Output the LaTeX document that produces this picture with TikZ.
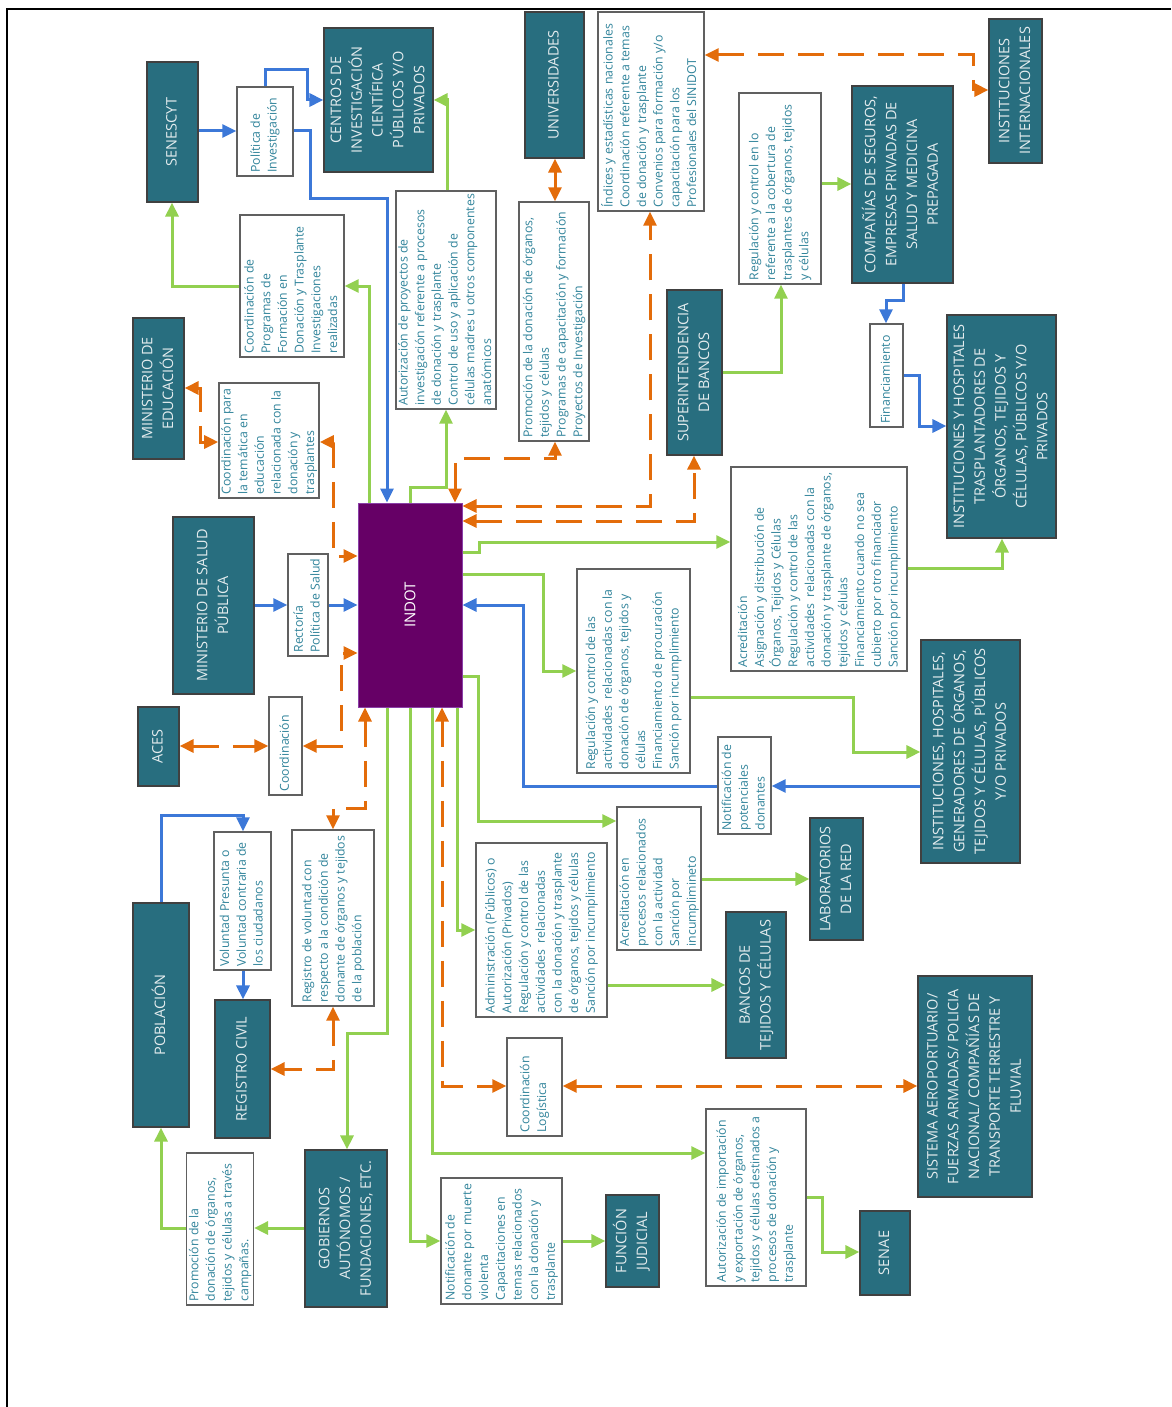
\documentclass[tikz,border=0pt]{standalone}
\usepackage{fontspec}
\setmainfont{Open Sans}
\usepackage{graphicx}
\usetikzlibrary{arrows.meta}
\definecolor{cteal}{HTML}{286E7F}
\definecolor{ctealtxt}{HTML}{E4ECEE}
\definecolor{cwtxt}{HTML}{31849B}
\definecolor{cblue}{HTML}{3C78D8}
\definecolor{cgreen}{HTML}{92D050}
\definecolor{corange}{HTML}{E36C0A}
\definecolor{cpurple}{HTML}{660066}
\definecolor{cpborder}{HTML}{8A3FA8}
\definecolor{cgrayb}{HTML}{606060}
\newcommand\bxgeom[4]{\pgfmathsetmacro\bxcx{(#1+#3)/2}\pgfmathsetmacro\bxcy{(#2+#4)/2}\pgfmathsetmacro\bxw{#3-#1}\pgfmathsetmacro\bxh{#4-#2}\pgfmathsetmacro\bxt{#4-#2-7}}
\newcommand\wb[6]{\bxgeom{#2}{#3}{#4}{#5}\node[wbox,minimum width=\bxw pt,minimum height=\bxh pt] (#1) at (\bxcx,\bxcy) {\rotatebox{90}{\makebox[\bxt pt][l]{\begin{tabular}{@{}l@{}}#6\end{tabular}}}};}
\newcommand\tb[6]{\bxgeom{#2}{#3}{#4}{#5}\node[tbox,minimum width=\bxw pt,minimum height=\bxh pt] (#1) at (\bxcx,\bxcy) {\rotatebox{90}{\begin{tabular}{@{}c@{}}#6\end{tabular}}};}
\tikzset{
  wbox/.style={draw=cgrayb, line width=1.4pt, fill=white, inner sep=0pt, text=cwtxt, font=\fontsize{12.3}{16.7}\selectfont},
  tbox/.style={draw=black!75, line width=1.2pt, fill=cteal, inner sep=0pt, text=ctealtxt, font=\fontsize{14.5}{20.8}\selectfont},
  pbox/.style={draw=cpborder, line width=1pt, fill=cpurple, inner sep=0pt, text=white, font=\fontsize{15}{20.8}\selectfont},
  >={Triangle[length=14pt,width=13pt]},
  bl/.style={draw=cblue, line width=3pt, ->},
  gr/.style={draw=cgreen, line width=3pt, ->},
  orl/.style={draw=corange, line width=3pt, dash pattern=on 26pt off 14pt, <->},
  orsolid/.style={draw=corange, line width=3pt, <->},
}
\begin{document}
\begin{tikzpicture}[x=1pt,y=-1pt]
\useasboundingbox (0,0) rectangle (1171,1407);
\draw[line width=2.2pt] (7,1407) -- (7,9) -- (1171,9);

% teal boxes
\tb{senescyt}{147}{62}{198}{202}{SENESCYT}
\tb{centros}{324}{28}{433}{172}{CENTROS DE\\INVESTIGACIÓN\\CIENTÍFICA\\PÚBLICOS Y/O\\PRIVADOS}
\tb{minedu}{133}{318}{184}{459}{MINISTERIO DE\\EDUCACIÓN}
\tb{univ}{525}{12}{584}{158}{UNIVERSIDADES}
\tb{super}{667}{290}{722}{455}{SUPERINTENDENCIA\\DE BANCOS}
\tb{comp}{852}{86}{953}{283}{COMPAÑÍAS DE SEGUROS,\\EMPRESAS PRIVADAS DE\\SALUD Y MEDICINA\\PREPAGADA}
\tb{intl}{989}{19}{1042}{163}{INSTITUCIONES\\INTERNACIONALES}
\tb{ith}{947}{315}{1056}{538}{INSTITUCIONES Y HOSPITALES\\TRASPLANTADORES DE\\ÓRGANOS, TEJIDOS Y\\CÉLULAS, PÚBLICOS Y/O\\PRIVADOS}
\tb{msp}{173}{517}{254}{694}{MINISTERIO DE SALUD\\PÚBLICA}
\tb{aces}{138}{707}{179}{786}{ACES}
\tb{pob}{133}{903}{189}{1127}{POBLACIÓN}
\tb{rc}{215}{1000}{270}{1138}{REGISTRO CIVIL}
\tb{gob}{305}{1150}{387}{1307}{GOBIERNOS\\AUTÓNOMOS /\\FUNDACIONES, ETC.}
\tb{gen}{921}{640}{1020}{863}{INSTITUCIONES, HOSPITALES,\\GENERADORES DE ÓRGANOS,\\TEJIDOS Y CÉLULAS, PÚBLICOS\\Y/O PRIVADOS}
\tb{lab}{810}{818}{863}{940}{LABORATORIOS\\DE LA RED}
\tb{bancos}{726}{912}{786}{1058}{BANCOS DE\\TEJIDOS Y CÉLULAS}
\tb{sist}{918}{976}{1032}{1197}{SISTEMA AEROPORTUARIO/\\FUERZAS ARMADAS/ POLICIA\\NACIONAL/ COMPAÑÍAS DE\\TRANSPORTE TERRESTRE Y\\FLUVIAL}
\tb{senae}{860}{1211}{910}{1295}{SENAE}
\tb{fj}{606}{1195}{659}{1287}{FUNCIÓN\\JUDICIAL}

% INDOT
\node[pbox, minimum width=104pt, minimum height=204pt] (indot) at (410,605) {\rotatebox{90}{INDOT}};

% white boxes
\wb{pol}{237}{87}{293}{176}{Política de\\Investigación}
\wb{coordprog}{240}{215}{344}{357}{Coordinación de\\Programas de\\Formación en\\Donación y Trasplante\\Investigaciones\\realizadas}
\wb{coordtem}{219}{383}{319}{498}{Coordinación para\\la temática en\\educación\\relacionada con la\\donación y\\trasplantes}
\wb{autproy}{396}{191}{496}{409}{Autorización de proyectos de\\investigación referente a procesos\\de donación y trasplante\\Control de uso y aplicación de\\células madres u otros componentes\\anatómicos}
\wb{promu}{519}{202}{589}{441}{Promoción de la donación de órganos,\\tejidos y células\\Programas de capacitación y formación\\Proyectos de Investigación}
\wb{indices}{598}{12}{704}{211}{Índices y estadísticas nacionales\\Coordinación referente a temas\\de donación y trasplante\\Convenios para formación y/o\\capacitación para los\\Profesionales del SINIDOT}
\wb{regcob}{739}{93}{821}{284}{Regulación y control en lo\\referente a la cobertura de\\trasplantes de órganos, tejidos\\y células}
\wb{fin}{870}{324}{903}{427}{Financiamiento}
\wb{rect}{288}{554}{328}{656}{Rectoría\\Política de Salud}
\wb{coordn}{269}{697}{302}{795}{Coordinación}
\wb{vol}{214}{832}{271}{970}{Voluntad Presunta o\\Voluntad contraria de\\los ciudadanos}
\wb{regvol}{292}{830}{374}{1006}{Registro de voluntad con\\respecto a la condición de\\donante de órganos y tejidos\\de la población}
\wb{promcamp}{188}{1153}{252}{1305}{Promoción de la\\donación de órganos,\\tejidos y células a través\\campañas.}
\wb{regmid}{577}{569}{690}{773}{Regulación y control de las\\actividades\ \ relacionadas con la\\donación de órganos, tejidos y\\células\\Financiamiento de procuración\\Sanción por incumplimiento}
\wb{acred}{731}{467}{907}{671}{Acreditación\\Asignación y distribución de\\Órganos, Tejidos y Células\\Regulación y control de las\\actividades\ \ relacionadas con la\\donación y trasplante de órganos,\\tejidos y células\\Financiamiento cuando no sea\\cubierto por otro financiador\\Sanción por incumplimiento}
\wb{notif}{718}{737}{771}{834}{Notificación de\\potenciales\\donantes}
\wb{acproc}{617}{807}{701}{950}{Acreditación en\\procesos relacionados\\con la actividad\\Sanción por\\incumplimineto}
\wb{admin}{476}{843}{607}{1017}{Administración (Públicos) o\\Autorización (Privados)\\Regulación y control de las\\actividades\ \ relacionadas\\con la donación y trasplante\\de órganos, tejidos y células\\Sanción por incumplimiento}
\wb{coordlog}{507}{1038}{562}{1136}{Coordinación\\Logística}
\wb{autimp}{706}{1109}{806}{1286}{Autorización de importación\\y exportación de órganos,\\tejidos y células destinados a\\procesos de donación y\\trasplante}
\wb{notdon}{441}{1178}{562}{1304}{Notificación de\\donante por muerte\\violenta\\Capacitaciones en\\temas relacionados\\con la donación y\\trasplante}

% blue connectors
\draw[bl] (senescyt.east |- 0,131) -- (pol.west |- 0,131);
\draw[bl] (pol.north -| 265,0) -- (265,70) -- (307,70) -- (307,100) -- (centros.west |- 0,100);
\draw[bl] (pol.east |- 0,131) -- (310,131) -- (310,198) -- (387,198) -- (indot.north -| 387,0);
\draw[bl] (msp.east |- 0,605) -- (rect.west |- 0,605);
\draw[bl] (rect.east |- 0,605) -- (indot.west |- 0,605);
\draw[bl] (gen.west |- 0,786) -- (notif.east |- 0,786);
\draw[bl] (notif.west |- 0,786) -- (523,786) -- (523,605) -- (indot.east |- 0,605);
\draw[bl] (pob.north -| 161,0) -- (161,815) -- (243,815) -- (vol.north -| 243,0);
\draw[bl] (vol.south -| 243,0) -- (rc.north -| 243,0);
\draw[bl] (comp.south -| 903,0) -- (903,300) -- (886,300) -- (fin.north -| 886,0);
\draw[bl] (fin.east |- 0,375) -- (919,375) -- (919,426) -- (ith.west |- 0,426);

% green connectors
\draw[gr] (coordprog.west |- 0,286) -- (172,286) -- (senescyt.south -| 172,0);
\draw[gr] (indot.north -| 369,0) -- (369,286) -- (coordprog.east |- 0,286);
\draw[gr] (indot.north -| 410,0) -- (410,487) -- (446,487) -- (autproy.south -| 446,0);
\draw[gr] (autproy.north -| 447,0) -- (447,100) -- (centros.east |- 0,100);
\draw[gr] (indot.east |- 0,552) -- (479,552) -- (479,542) -- (acred.west |- 0,542);
\draw[gr] (acred.east |- 0,568) -- (1002,568) -- (ith.south -| 1002,0);
\draw[gr] (indot.east |- 0,574) -- (543,574) -- (543,671) -- (regmid.west |- 0,671);
\draw[gr] (regmid.east |- 0,697) -- (853,697) -- (853,752) -- (gen.west |- 0,752);
\draw[gr] (indot.east |- 0,676) -- (478,676) -- (478,821) -- (acproc.west |- 0,821);
\draw[gr] (acproc.east |- 0,879) -- (lab.west |- 0,879);
\draw[gr] (indot.south -| 457,0) -- (457,930) -- (admin.west |- 0,930);
\draw[gr] (admin.east |- 0,985) -- (bancos.west |- 0,985);
\draw[gr] (indot.south -| 432,0) -- (432,1153) -- (autimp.west |- 0,1153);
\draw[gr] (indot.south -| 410,0) -- (410,1241) -- (notdon.west |- 0,1241);
\draw[gr] (notdon.east |- 0,1241) -- (fj.west |- 0,1241);
\draw[gr] (indot.south -| 387,0) -- (387,1033) -- (347,1033) -- (gob.north -| 347,0);
\draw[gr] (gob.west |- 0,1228) -- (promcamp.east |- 0,1228);
\draw[gr] (promcamp.west |- 0,1228) -- (161,1228) -- (pob.south -| 161,0);
\draw[gr] (super.east |- 0,372) -- (781,372) -- (regcob.south -| 781,0);
\draw[gr] (regcob.east |- 0,184) -- (comp.west |- 0,184);
\draw[gr] (autimp.east |- 0,1197) -- (822,1197) -- (822,1252) -- (senae.west |- 0,1252);

% orange connectors
\draw[orl] (minedu.east |- 0,388) -- (200,388) -- (200,442) -- (coordtem.west |- 0,442);
\draw[orl] (coordtem.east |- 0,442) -- (333,442) -- (333,556) -- (indot.west |- 0,556);
\draw[orl] (coordn.east |- 0,746) -- (341,746) -- (341,653) -- (indot.west |- 0,653);
\draw[orl] (aces.east |- 0,746) -- (coordn.west |- 0,746);
\draw[orl] (indot.south -| 365,0) -- (365,808) -- (333,808) -- (regvol.north -| 333,0);
\draw[orl] (regvol.south -| 333,0) -- (333,1069) -- (rc.east |- 0,1069);
\draw[orl] (indot.north -| 455,0) -- (455,458) -- (555,458) -- (promu.south -| 555,0);
\draw[orl] (indot.east |- 0,506) -- (650,506) -- (indices.south -| 650,0);
\draw[orl] (indot.east |- 0,521) -- (694,521) -- (super.south -| 694,0);
\draw[orl] (indices.east |- 0,55) -- (973,55) -- (973,90) -- (intl.west |- 0,90);
\draw[orsolid] (univ.south -| 555,0) -- (promu.north -| 555,0);
\draw[orl] (indot.south -| 442,0) -- (442,1086) -- (coordlog.west |- 0,1086);
\draw[orl] (coordlog.east |- 0,1086) -- (sist.west |- 0,1086);
\end{tikzpicture}
\end{document}
